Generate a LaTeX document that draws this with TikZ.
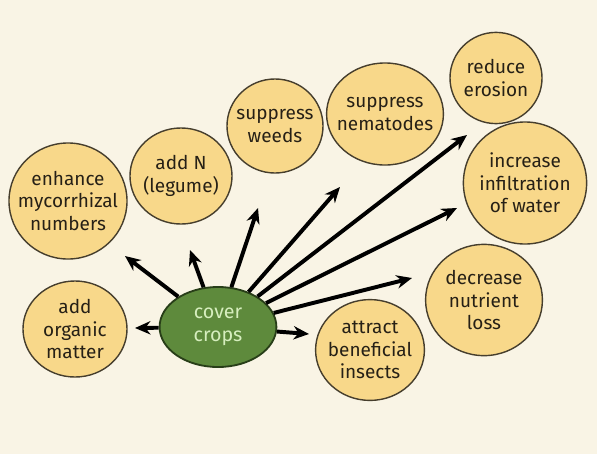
\documentclass[tikz,border=0pt]{standalone}
\usepackage{fontspec}
\setmainfont{Fira Sans}
\usetikzlibrary{arrows.meta}
\usetikzlibrary{shapes.geometric}
\usetikzlibrary{positioning}

\definecolor{paper}{RGB}{249,244,229}
\definecolor{bubblefill}{RGB}{248,216,138}
\definecolor{bubbleline}{RGB}{70,62,45}
\definecolor{bubbletext}{RGB}{38,32,22}
\definecolor{cropfill}{RGB}{94,138,60}
\definecolor{cropline}{RGB}{40,62,24}
\definecolor{croptext}{RGB}{214,238,190}

\tikzset{
    bubble/.style={ellipse, draw=bubbleline, fill=bubblefill, line width=1pt,
        align=center, inner sep=-10pt, text=bubbletext, font=\fontsize{13.5}{16}\selectfont},
    crops/.style={ellipse, draw=cropline, fill=cropfill, line width=1.3pt,
        align=center, inner sep=-10pt, text=croptext, minimum width=2.92cm, minimum height=2cm,
        font=\fontsize{14}{16}\selectfont},
    arr/.style={-{Stealth[length=11pt,width=9.5pt]}, line width=2.8pt, black},
}

\begin{document}
\begin{tikzpicture}[x=0.025cm, y=-0.025cm]
            \fill[paper] (0,0) rectangle (597,454);
            \useasboundingbox (0,0) rectangle (597,454);

            \node[crops] (cc) at (218,327) {cover\\crops};

            \node[bubble, minimum width=2.95cm, minimum height=2.9cm] (myco) at (68,201) {enhance\\mycorrhizal\\numbers};
            \node[bubble, minimum width=2.55cm, minimum height=2.4cm] (addn) at (181,176) {add N\\(legume)};
            \node[bubble, minimum width=2.4cm, minimum height=2.35cm] (weeds) at (275,126) {suppress\\weeds};
            \node[bubble, minimum width=2.92cm, minimum height=2.55cm] (nema) at (385,114) {suppress\\nematodes};
            \node[bubble, minimum width=2.3cm, minimum height=2.28cm] (eros) at (496,78) {reduce\\erosion};
            \node[bubble, minimum width=3.08cm, minimum height=3.05cm] (infil) at (525,183) {increase\\infiltration\\of water};
            \node[bubble, minimum width=2.92cm, minimum height=2.78cm] (nutr) at (484,300) {decrease\\nutrient\\loss};
            \node[bubble, minimum width=2.72cm, minimum height=2.52cm] (insect) at (370,350) {attract\\beneficial\\insects};
            \node[bubble, minimum width=2.6cm, minimum height=2.4cm] (organic) at (75,329) {add\\organic\\matter};

            % arrow tips
            \coordinate (torganic) at (135,328);
            \coordinate (tmyco) at (125,256);
            \coordinate (taddn) at (190,250);
            \coordinate (tweeds) at (258,208);
            \coordinate (tnema) at (340,187);
            \coordinate (teros) at (467,135);
            \coordinate (tinfil) at (457,208);
            \coordinate (tnutr) at (412,278);
            \coordinate (tinsect) at (309,334);

            \path[arr] (cc) edge (torganic);
            \path[arr] (cc) edge (tmyco);
            \path[arr] (cc) edge (taddn);
            \path[arr] (cc) edge (tweeds);
            \path[arr] (cc) edge (tnema);
            \path[arr] (cc) edge (teros);
            \path[arr] (cc) edge (tinfil);
            \path[arr] (cc) edge (tnutr);
            \path[arr] (cc) edge (tinsect);
\end{tikzpicture}
\end{document}
